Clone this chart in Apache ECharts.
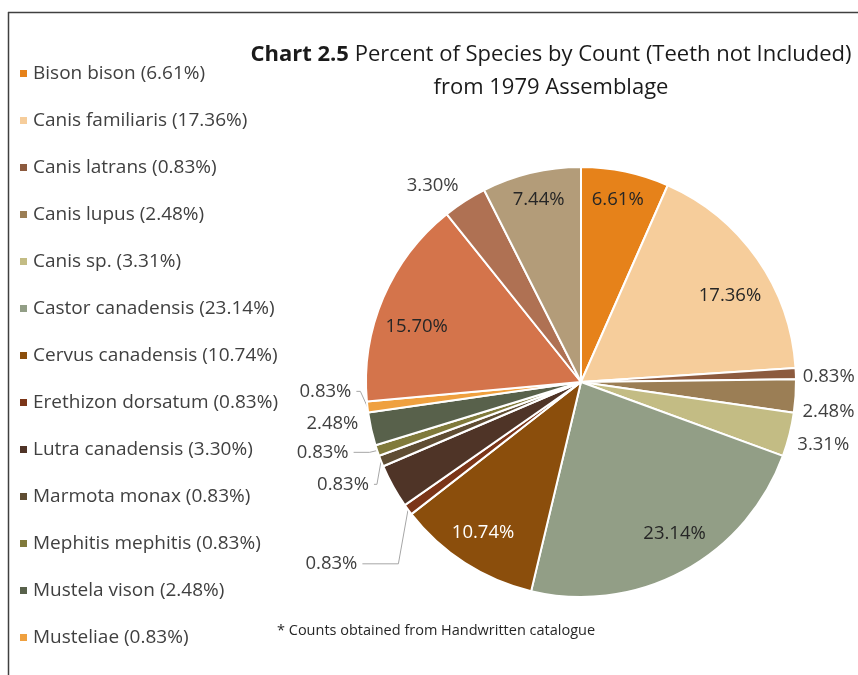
<!DOCTYPE html>
<html><head><meta charset="utf-8">
<script src="https://cdn.jsdelivr.net/npm/echarts@6/dist/echarts.min.js"></script>
<style>html,body{margin:0;padding:0;background:#fff}#c{width:858px;height:675px}</style>
</head><body><div id="c"></div>
<script>
const species = ['Bison bison','Canis familiaris','Canis latrans','Canis lupus','Canis sp.','Castor canadensis','Cervus canadensis','Erethizon dorsatum','Lutra canadensis','Marmota monax','Mephitis mephitis','Mustela vison','Musteliae','Odocoileus virginianus','Procyon lotor','Ursus americanus'];
const percents = [6.61,17.36,0.83,2.48,3.31,23.14,10.74,0.83,3.30,0.83,0.83,2.48,0.83,15.70,3.30,7.44];
const legendNames = species.slice(0,13);
const colors = ['#E6821A','#F6CD9B','#8C5A3E','#9B7E55','#C3BC84','#929E86','#8B4E0C','#7B3518','#4F3427','#5F4D33','#807A3B','#58614B','#EFA03F','#D4744B','#AF7153','#B39C79'];
const insideIdx = [0,1,5,6,13,15];
const hiddenIdx = [8];
const whiteIdx = [6];
const noLineIdx = [2,3,4,11,14];
const labelShift = {2:[-5,3], 3:[-5,15], 4:[-4,9], 7:[-14,47], 9:[19,9], 10:[6,-2], 11:[-5,-6], 12:[18,-17], 14:[4,-12]};
const insideShift = {1:[-1,19], 13:[4,16], 5:[7,-9], 0:[-1,-3], 15:[0,-4], 6:[1,-3]};

const chart = echarts.init(document.getElementById('c'));
const mainData = species.map((n,i)=>{
  const show = insideIdx.indexOf(i)<0 && hiddenIdx.indexOf(i)<0;
  const noLine = noLineIdx.indexOf(i)>=0;
  return {
    name:n, value:percents[i], itemStyle:{color:colors[i]},
    label:{show: show},
    labelLine:{show: show, length: noLine?4:12, length2: noLine?3:22,
      lineStyle:{color: noLine ? 'rgba(0,0,0,0)' : '#a6a6a6'}}
  };
});
const labelData = species.map((n,i)=>({
  name:n, value:percents[i],
  label:{show: insideIdx.indexOf(i)>=0, color: whiteIdx.indexOf(i)>=0 ? '#ffffff' : '#262626'}
}));
function layoutLabel(p){
  const s = labelShift[p.dataIndex];
  if (!s) return {};
  const out = {dx:s[0], dy:s[1]};
  if (p.labelLinePoints && p.labelLinePoints.length >= 3) {
    const pts = p.labelLinePoints.map(q => [q[0], q[1]]);
    pts[1][1] += s[1];
    pts[2][1] += s[1];
    pts[2][0] += s[0];
    if (s[0] > 0 && pts[2][0] < pts[1][0]) pts[1][0] = Math.max(pts[1][0], pts[2][0]);
    out.labelLinePoints = pts;
  }
  return out;
}
function layoutInside(p){
  const s = insideShift[p.dataIndex];
  return s ? {dx:s[0], dy:s[1]} : {};
}
const fam = "'Open Sans', 'Liberation Sans', sans-serif";
chart.setOption({
  animation:false,
  title:{
    text:'{b|Chart 2.5} Percent of Species by Count (Teeth not Included)\nfrom 1979 Assemblage',
    left:546, top:33, textAlign:'center',
    textStyle:{fontFamily:fam, fontSize:22, fontWeight:'normal', color:'#1a1a1a', lineHeight:33,
      rich:{b:{fontFamily:fam, fontSize:22, fontWeight:'bold', color:'#1a1a1a', lineHeight:33}}}
  },
  legend:{
    orient:'vertical', left:13, top:56,
    data:legendNames, itemWidth:9, itemHeight:9, itemGap:22, icon:'rect',
    textStyle:{fontFamily:fam, fontSize:19, color:'#404040', padding:[0,0,0,0], lineHeight:25},
    formatter: n => n + ' (' + percents[species.indexOf(n)].toFixed(2) + '%)',
    selectedMode:false
  },
  graphic:[
    {type:'line', shape:{x1:8,y1:12.5,x2:858,y2:12.5}, style:{stroke:'#404040', lineWidth:1.5}},
    {type:'line', shape:{x1:8.5,y1:12,x2:8.5,y2:675}, style:{stroke:'#404040', lineWidth:1.5}},
    {type:'text', left:277, top:623, style:{text:'* Counts obtained from Handwritten catalogue', fontFamily:fam, fontSize:14.5, fill:'#262626'}}
  ],
  series:[
    {
      type:'pie', center:[581,382], radius:[0,215], startAngle:90, clockwise:true,
      data:mainData, avoidLabelOverlap:true,
      itemStyle:{borderColor:'#fff', borderWidth:2},
      label:{position:'outside', formatter: p => p.value.toFixed(2)+'%', fontFamily:fam, fontSize:18.5, color:'#404040', overflow:'none'},
      labelLine:{lineStyle:{width:1}},
      labelLayout: layoutLabel,
      emphasis:{disabled:true}
    },
    {
      type:'pie', center:[581,382], radius:[0,360], startAngle:90, clockwise:true, silent:true,
      data:labelData, itemStyle:{color:'rgba(0,0,0,0)'},
      label:{position:'inside', formatter: p => p.value.toFixed(2)+'%', fontFamily:fam, fontSize:18.5},
      labelLayout: layoutInside,
      labelLine:{show:false}, emphasis:{disabled:true}, tooltip:{show:false}
    }
  ]
});
</script></body></html>
